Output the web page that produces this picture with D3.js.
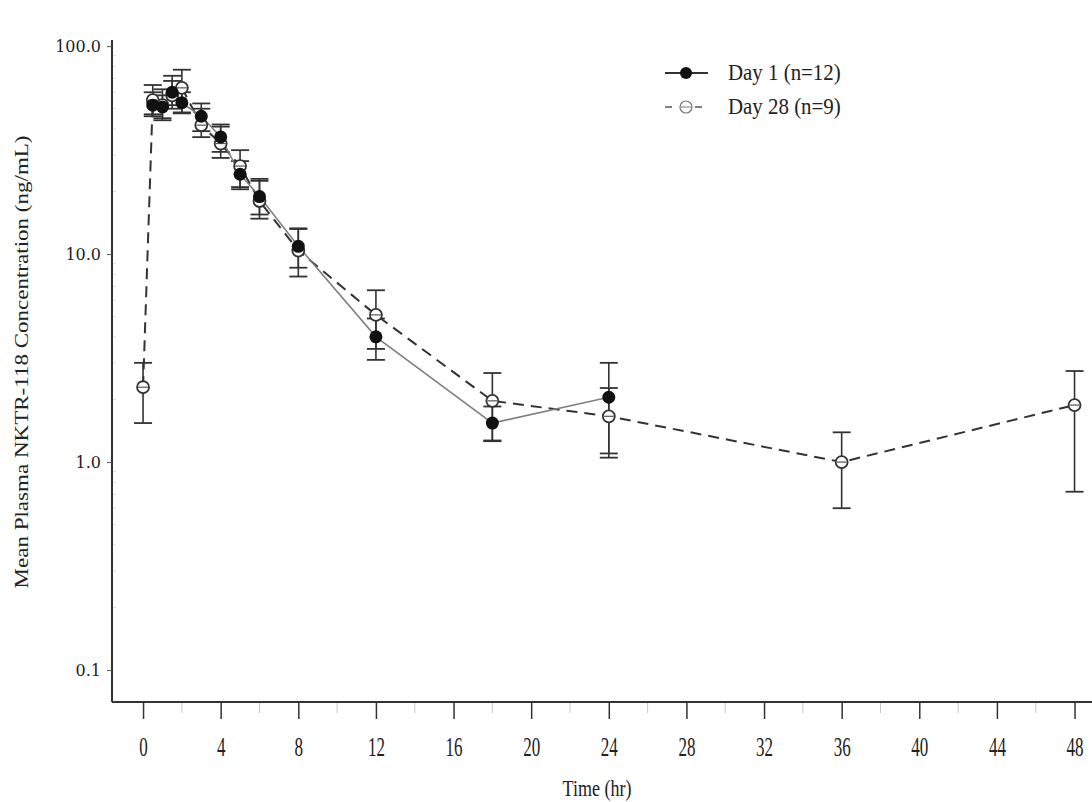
<!doctype html>
<html lang="en">
<head>
  <meta charset="UTF-8">
  <title>NKTR-118 plasma concentration</title>
  <style>
    body { margin: 0; background: #fff; }
    #app { width: 1092px; height: 802px; }
    text { fill: #222; }
  </style>
</head>
<body>
<div id="app"></div>
<script src="https://cdn.jsdelivr.net/npm/d3@7/dist/d3.min.js"></script>
<script>
  // Day 1 (n=12)
  var times1 = [0.5, 1, 1.5, 2, 3, 4, 5, 6, 8, 12, 18, 24];
  var day1Mean = [52, 51, 60, 53.4, 46, 36.6, 24.2, 18.9, 10.9, 4.0, 1.54, 2.05];
  var day1Lo = [46, 45, 52, 47.5, 39, 31, 20.5, 15.5, 8.6, 3.1, 1.27, 1.1];
  var day1Hi = [60, 58, 68, 60, 53, 42, 28, 22.5, 13.2, 4.9, 1.85, 3.0];

  // Day 28 (n=9)
  var times28 = [0, 0.5, 1, 1.5, 2, 3, 4, 5, 6, 8, 12, 18, 24, 36, 48];
  var day28Mean = [2.29, 55, 52, 58, 63, 41.7, 34, 26.5, 18, 10.4, 5.1, 1.97, 1.66, 1.0, 1.88];
  var day28Lo = [1.54, 47, 44, 50, 48, 36.5, 29, 21, 14.8, 7.8, 3.5, 1.26, 1.05, 0.6, 0.72];
  var day28Hi = [3.0, 65, 62, 72, 77, 50, 41, 31.6, 23, 13.3, 6.7, 2.68, 2.27, 1.39, 2.74];

  var xTicks = [0, 4, 8, 12, 16, 20, 24, 28, 32, 36, 40, 44, 48];
  var yTicks = [0.1, 1, 10, 100];
  var legendLabels = ['Day 1 (n=12)', 'Day 28 (n=9)'];

  var width = 1092;
  var height = 802;
  var serif = '"Liberation Serif", "Times New Roman", serif';
  var x = d3.scaleLinear().domain([-1.6, 48.9]).range([112, 1092]);
  var y = d3.scaleLog().domain([0.0702, 107]).range([702, 40]);

  var svg = d3.select('#app')
              .append('svg')
              .attr('width', width)
              .attr('height', height)
              .style('font-family', serif);

  function toPoints(t, m, lo, hi) {
    return t.map((d, i) => ({t: d, v: m[i], lo: lo[i], hi: hi[i]}));
  }
  var day1 = toPoints(times1, day1Mean, day1Lo, day1Hi);
  var day28 = toPoints(times28, day28Mean, day28Lo, day28Hi);

  // x axis: major ticks every 4, minor every 2
  var xAxis = svg.append('g')
    .attr('transform', 'translate(0,702)')
    .call(d3.axisBottom(x).tickValues(xTicks).tickSize(17).tickFormat(d3.format('d')));
  xAxis.select('.domain').attr('d', 'M112,0H1092').attr('stroke', '#333').attr('stroke-width', 2);
  xAxis.selectAll('.tick line').attr('stroke', '#333').attr('stroke-width', 1.5);
  // the source figure is stretched vertically, so the labels are drawn tall and narrow
  xAxis.selectAll('.tick text')
    .attr('y', 0).attr('dy', 0)
    .attr('transform', 'translate(0,54) scale(0.85,1.35)')
    .attr('fill', '#222')
    .style('font-family', serif).style('font-size', '20px');

  var minorX = d3.range(2, 50, 4);
  svg.append('g').selectAll('line')
    .data(minorX)
    .enter()
    .append('line')
    .attr('x1', d => x(d)).attr('x2', d => x(d))
    .attr('y1', 703).attr('y2', 713)
    .attr('stroke', '#c8c8c8').attr('stroke-width', 1);

  // y axis (log)
  var yAxis = svg.append('g')
    .attr('transform', 'translate(112,0)')
    .call(d3.axisLeft(y).tickValues(yTicks).tickSize(5).tickPadding(6).tickFormat(d3.format('.1f')));
  yAxis.select('.domain').attr('d', 'M0,702V40').attr('stroke', '#333').attr('stroke-width', 2);
  yAxis.selectAll('.tick line').attr('stroke', '#555');
  yAxis.selectAll('.tick text').attr('fill', '#222')
    .style('font-family', '"DejaVu Serif", serif').style('font-size', '16px');

  var minorY = [];
  [0.1, 1, 10].forEach(b => d3.range(2, 10).forEach(k => minorY.push(b * k)));
  svg.append('g').selectAll('line')
    .data(minorY)
    .enter()
    .append('line')
    .attr('x1', 113).attr('x2', 116)
    .attr('y1', d => y(d)).attr('y2', d => y(d))
    .attr('stroke', '#ddd').attr('stroke-width', 1);

  // axis titles
  svg.append('text')
    .attr('transform', 'translate(597,796) scale(1,1.25)')
    .attr('text-anchor', 'middle')
    .style('font-size', '18px')
    .text('Time (hr)');
  svg.append('text')
    .attr('transform', 'translate(28,362) rotate(-90) scale(1.28,1)')
    .attr('text-anchor', 'middle')
    .style('font-size', '18px')
    .text('Mean Plasma NKTR-118 Concentration (ng/mL)');

  // error bars
  function errorBars(data) {
    var g = svg.append('g');
    g.selectAll('line.bar')
      .data(data)
      .enter()
      .append('line')
      .attr('class', 'bar')
      .attr('x1', d => x(d.t)).attr('x2', d => x(d.t))
      .attr('y1', d => y(d.lo)).attr('y2', d => y(d.hi))
      .attr('stroke', '#333').attr('stroke-width', 1.6);
    ['lo', 'hi'].forEach(k => {
      g.selectAll('line.cap-' + k)
        .data(data)
        .enter()
        .append('line')
        .attr('class', 'cap-' + k)
        .attr('x1', d => x(d.t) - 9).attr('x2', d => x(d.t) + 9)
        .attr('y1', d => y(d[k])).attr('y2', d => y(d[k]))
        .attr('stroke', '#333').attr('stroke-width', 1.8);
    });
  }
  errorBars(day28);
  errorBars(day1);

  var line = d3.line().x(d => x(d.t)).y(d => y(d.v));

  svg.append('path')
    .datum(day28)
    .attr('d', line)
    .attr('fill', 'none')
    .attr('stroke', '#333')
    .attr('stroke-width', 2)
    .attr('stroke-dasharray', '11,7');

  svg.append('path')
    .datum(day1)
    .attr('d', line)
    .attr('fill', 'none')
    .attr('stroke', '#808080')
    .attr('stroke-width', 1.6);

  function openMarker(g) {
    g.append('circle').attr('r', 6).attr('fill', '#fff').attr('stroke', '#333').attr('stroke-width', 1.8);
    g.append('line').attr('x1', -5).attr('x2', 5).attr('stroke', '#555').attr('stroke-width', 1.2);
  }

  svg.append('g').selectAll('g')
    .data(day28)
    .enter()
    .append('g')
    .attr('transform', d => 'translate(' + x(d.t) + ',' + y(d.v) + ')')
    .each(function() { openMarker(d3.select(this)); });

  svg.append('g').selectAll('circle')
    .data(day1)
    .enter()
    .append('circle')
    .attr('cx', d => x(d.t)).attr('cy', d => y(d.v))
    .attr('r', 6.5)
    .attr('fill', '#111');

  // legend
  var lg = svg.append('g').attr('transform', 'translate(665,73)');
  lg.append('line').attr('x1', 0).attr('x2', 43).attr('stroke', '#333').attr('stroke-width', 1.8);
  lg.append('circle').attr('cx', 21).attr('r', 6).attr('fill', '#111');
  lg.append('text').attr('transform', 'translate(63,7) scale(1.1,1.2)').style('font-size', '19px').text(legendLabels[0]);

  var lg2 = svg.append('g').attr('transform', 'translate(665,107)');
  lg2.append('line').attr('x1', 0).attr('x2', 43).attr('stroke', '#555').attr('stroke-width', 1.6)
    .attr('stroke-dasharray', '7,8');
  var m = lg2.append('g').attr('transform', 'translate(21,0)');
  m.append('circle').attr('r', 6).attr('fill', '#fff').attr('stroke', '#777').attr('stroke-width', 1.2);
  m.append('line').attr('x1', -5).attr('x2', 5).attr('stroke', '#777').attr('stroke-width', 1);
  lg2.append('text').attr('transform', 'translate(63,7) scale(1.1,1.2)').style('font-size', '19px').text(legendLabels[1]);
</script>
</body>
</html>
